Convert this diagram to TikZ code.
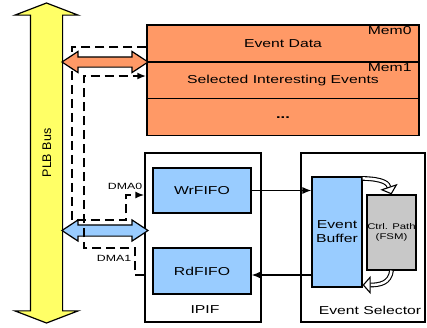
\documentclass[tikz,border=0pt]{standalone}
\usepackage{fontspec}
\setmainfont[FakeStretch=1.37]{Liberation Sans}
\newfontfamily\plbfont{Liberation Sans}
\usepackage{xcolor}
\usetikzlibrary{shapes, arrows.meta, calc, positioning}

\definecolor{busyellow}{HTML}{FFFF66}
\definecolor{memorange}{HTML}{FF9966}
\definecolor{fifoblue}{HTML}{99CCFF}
\definecolor{fsmgray}{HTML}{C8C8C8}

\begin{document}
\begin{tikzpicture}[x=1pt, y=-1pt,
        box/.style = {draw, line width=1.2pt, inner sep=0pt},
        fifo/.style = {box, fill=fifoblue, minimum width=98pt, minimum height=45pt},
        memrow/.style = {box, line width=1.5pt, fill=memorange, minimum width=272pt, minimum height=36.7pt},
        dma/.style = {line width=1.8pt, dash pattern=on 9pt off 5pt},
        hollow/.style = {double=white, double distance=2.5pt, line width=1.1pt,
                         -{Triangle[open, length=8pt, width=18pt]}},
        txt/.style = {font=\fontsize{11.5}{14}\selectfont, align=center}]
        \useasboundingbox (0,0) rectangle (427,327);

        % PLB bus
        \node (PLB) [draw, line width=1.2pt, fill=busyellow, double arrow, rotate=90,
                inner xsep=0pt, inner ysep=15.5pt,
                minimum height=320pt, double arrow head extend=15.5pt,
                double arrow tip angle=138] at (46.5,163) {};
        \node (PLBtxt) [rotate=90, font=\plbfont\fontsize{12.5}{15}\selectfont] at (47,153) {PLB Bus};

        % memory
        \node (Mem0) [memrow, txt] at (283,43.5) {Event Data};
        \node (Mem1) [memrow, txt] at (283,80.2) {Selected Interesting Events};
        \node (Mem2) [memrow] at (283,116.9) {};
        \node (Dots) [font=\fontsize{12}{14}\selectfont\bfseries] at (283,118) {...};
        \node (Mem0lbl) [anchor=north east, inner xsep=8pt, inner ysep=2pt, txt] at (Mem0.north east) {Mem0};
        \node (Mem1lbl) [anchor=north east, inner xsep=8pt, inner ysep=2pt, txt] at (Mem1.north east) {Mem1};

        % IPIF
        \node (IPIF) [box, minimum width=116pt, minimum height=169pt] at (203,237.5) {};
        \node (IPIFlbl) [txt] at (205,310) {IPIF};
        \node (WrF) [fifo, txt] at (202,190.5) {WrFIFO};
        \node (RdF) [fifo, txt, minimum height=46pt] at (202,271) {RdFIFO};

        % event selector
        \node (ES) [box, minimum width=124pt, minimum height=169pt] at (363,237.5) {};
        \node (ESlbl) [txt] at (370,310) {Event Selector};
        \node (EB) [box, fill=fifoblue, minimum width=50pt, minimum height=110pt, txt] at (337,232) {Event\\Buffer};
        \node (CP) [box, fill=fsmgray, minimum width=49pt, minimum height=75pt,
                font=\fontsize{8.3}{10}\selectfont, align=center] at (391.5,232.5) {Ctrl. Path\\(FSM)};

        \draw [line width=1.2pt, -{Latex[length=9pt, width=7pt]}] (WrF.east) -- (WrF.east -| EB.west);
        \draw [line width=1.2pt, -{Latex[length=9pt, width=7pt]}] (EB.west |- 0,275) -- (RdF.east |- 0,275);

        \draw [hollow] (EB.north east) ++(0,2) .. controls (385,179) and (388,184) .. (CP.north);
        \draw [hollow] (CP.south) .. controls (390,283) and (380,285) .. (EB.east |- 0,285);

        % blue bus link
        \node (RdLink) [draw, line width=1.2pt, fill=fifoblue, double arrow,
                inner xsep=0pt, inner ysep=5pt,
                minimum height=86pt, double arrow head extend=5pt,
                double arrow tip angle=67] at (105,230.5) {};

        % DMA paths
        \draw [dma, -{Latex[length=9pt, width=7pt]}] (Mem0.west) ++(0,3.5) -- (72,47) -- (72,220)
                -- (126,220) -- (126,195) -- (IPIF.west |- 0,195);
        \draw [dma, -{Latex[length=9pt, width=7pt]}] (IPIF.west |- 0,275) -- (135,275) -- (135,248)
                -- (84,248) -- (84,76) -- (Mem1.west |- 0,76);
        \node (DMA0) [font=\fontsize{9}{10}\selectfont] at (125,186) {DMA0};
        \node (DMA1) [font=\fontsize{9}{10}\selectfont] at (114,258) {DMA1};

        % orange bus link
        \node (MemLink) [draw, line width=1.2pt, fill=memorange, double arrow,
                inner xsep=0pt, inner ysep=4.5pt,
                minimum height=86pt, double arrow head extend=5.5pt,
                double arrow tip angle=67] at (105,62) {};
\end{tikzpicture}
\end{document}
